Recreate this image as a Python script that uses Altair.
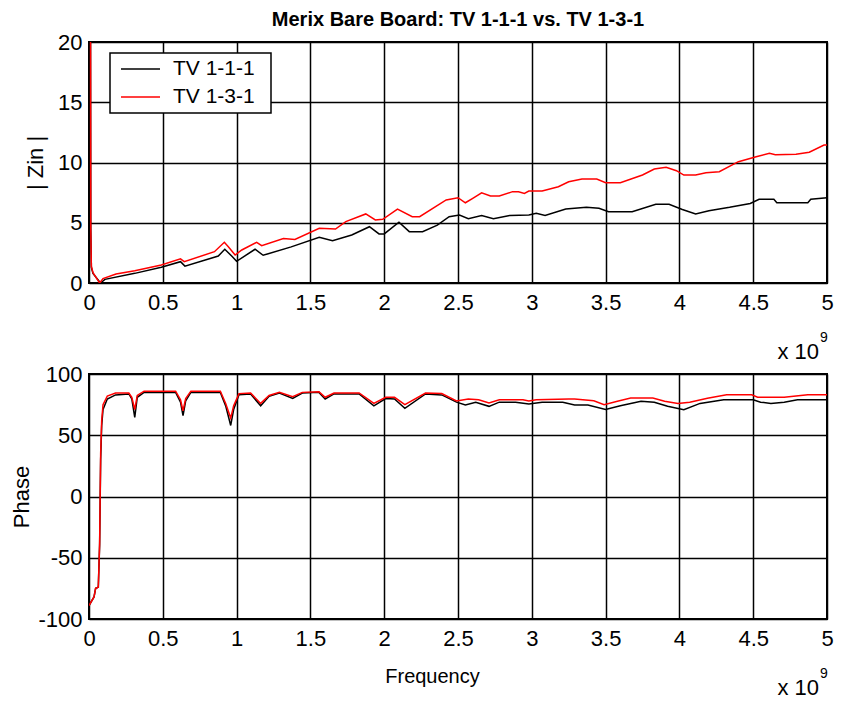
import altair as alt
import pandas as pd

SERIES = ["TV 1-1-1", "TV 1-3-1"]
COLORS = ["#000000", "#ff0000"]

# Frequency in units of 1e9 Hz
f_zin_111 = [0.01, 0.012, 0.016, 0.027, 0.078, 0.108, 0.31, 0.49, 0.62, 0.65, 0.876, 0.92, 0.97, 1.0, 1.125,
             1.18, 1.37, 1.56, 1.65, 1.78, 1.90, 1.965, 2.0, 2.10, 2.17, 2.26, 2.36, 2.44, 2.51, 2.57,
             2.66, 2.74, 2.85, 2.98, 3.03, 3.09, 3.23, 3.37, 3.455, 3.52, 3.68, 3.84, 3.93, 4.02, 4.11,
             4.2, 4.34, 4.48, 4.54, 4.64, 4.66, 4.87, 4.89, 5.0]
zin_111 = [25, 4.5, 1.3, 0.8, 0.0, 0.3, 0.8, 1.3, 1.77, 1.4, 2.24, 2.8, 2.2, 1.8, 2.8,
           2.3, 3.0, 3.8, 3.5, 3.98, 4.67, 4.07, 4.07, 5.04, 4.26, 4.26, 4.8, 5.5, 5.64, 5.34,
           5.6, 5.34, 5.6, 5.64, 5.78, 5.6, 6.14, 6.28, 6.2, 5.92, 5.92, 6.53, 6.53, 6.1, 5.73,
           6.0, 6.28, 6.6, 6.95, 6.95, 6.66, 6.66, 6.95, 7.08]

f_zin_131 = [0.01, 0.012, 0.016, 0.027, 0.072, 0.095, 0.183, 0.31, 0.49, 0.62, 0.645, 0.85, 0.917, 0.944,
             0.99, 1.035, 1.136, 1.17, 1.317, 1.395, 1.56, 1.67, 1.74, 1.875, 1.94, 1.99, 2.09, 2.19,
             2.24, 2.42, 2.50, 2.55, 2.60, 2.66, 2.72, 2.78, 2.87, 2.91, 2.95, 2.98, 3.07, 3.18, 3.25,
             3.34, 3.44, 3.50, 3.60, 3.75, 3.83, 3.91, 3.98, 4.03, 4.11, 4.18, 4.27, 4.40, 4.52, 4.61,
             4.65, 4.79, 4.88, 4.98, 5.0]
zin_131 = [25, 4.5, 1.4, 0.85, 0.0, 0.36, 0.75, 1.02, 1.49, 2.0, 1.77, 2.6, 3.38, 3.01,
           2.32, 2.74, 3.38, 3.1, 3.7, 3.62, 4.54, 4.48, 5.09, 5.73, 5.23, 5.29, 6.14, 5.5,
           5.5, 6.89, 7.08, 6.66, 7.03, 7.49, 7.22, 7.22, 7.58, 7.58, 7.44, 7.63, 7.63, 7.99, 8.4,
           8.63, 8.63, 8.32, 8.32, 8.96, 9.46, 9.6, 9.32, 8.96, 8.96, 9.15, 9.24, 10.07, 10.48, 10.76,
           10.65, 10.68, 10.85, 11.45, 11.45]

f_ph_111 = [0, 0.034, 0.045, 0.063, 0.072, 0.079, 0.086, 0.095, 0.124, 0.18, 0.27, 0.29, 0.31, 0.327,
            0.373, 0.587, 0.62, 0.637, 0.655, 0.69, 0.89, 0.926, 0.96, 0.98, 1.016, 1.095, 1.163, 1.22,
            1.29, 1.38, 1.445, 1.558, 1.6, 1.66, 1.83, 1.93, 2.01, 2.07, 2.14, 2.28, 2.39, 2.49, 2.55,
            2.62, 2.71, 2.78, 2.89, 2.98, 3.07, 3.21, 3.29, 3.38, 3.5, 3.6, 3.74, 3.83, 3.92, 4.03,
            4.14, 4.30, 4.5, 4.55, 4.62, 4.71, 4.80, 5.0]
ph_111 = [-89, -82, -75, -74, -40, 30, 58, 71, 79.6, 82.9, 83.7, 79.6, 64.6, 81,
          85, 85, 77, 66, 78, 85, 85, 74, 58, 71, 83, 83.7, 74, 81.8,
          84.5, 80, 84.5, 85, 79.6, 83.7, 83.7, 74, 80, 79.6, 72, 83.7, 82.9, 77, 74.7,
          77, 73.6, 77, 77, 75.5, 77, 77, 74.7, 74.7, 71, 74, 77.7, 77, 73.6, 70.9,
          76, 79, 79, 77, 76, 77, 79, 79]

f_ph_131 = [0, 0.034, 0.045, 0.063, 0.072, 0.079, 0.086, 0.095, 0.124, 0.18, 0.27, 0.29, 0.31, 0.327,
            0.373, 0.587, 0.62, 0.637, 0.655, 0.69, 0.89, 0.926, 0.96, 0.98, 1.016, 1.095, 1.163, 1.22,
            1.29, 1.38, 1.445, 1.558, 1.6, 1.66, 1.83, 1.93, 2.01, 2.07, 2.14, 2.28, 2.39, 2.49, 2.57,
            2.64, 2.71, 2.78, 2.94, 2.98, 3.03, 3.25, 3.29, 3.42, 3.49, 3.58, 3.67, 3.82, 3.90, 3.99,
            4.07, 4.19, 4.32, 4.49, 4.53, 4.71, 4.87, 5.0]
ph_131 = [-89, -82, -75, -74, -38, 35, 62, 75, 82, 84.5, 84.5, 81, 71, 82.5,
          86, 86, 79, 70, 80, 86, 86, 76, 64, 74, 84, 84.5, 76, 82.5,
          85, 81.5, 85, 85.5, 81, 84.5, 84.5, 76, 81, 81, 75, 84.5, 84, 78, 79.6,
          79, 76.3, 79, 79, 78, 79, 79.6, 79.6, 78.2, 75, 77.7, 80.4, 80.4, 77.7, 76,
          77, 80.2, 83, 83, 81, 81, 83, 83]

x_ticks = [0, 0.5, 1, 1.5, 2, 2.5, 3, 3.5, 4, 4.5, 5]
zin_ticks = [0, 5, 10, 15, 20]
ph_ticks = [-100, -50, 0, 50, 100]

TITLE = "Merix Bare Board: TV 1-1-1 vs. TV 1-3-1"
FONT = "Liberation Sans"


def long_df(f1, v1, f2, v2):
    a = pd.DataFrame({"f": f1, "v": v1, "s": SERIES[0], "o": range(len(f1))})
    b = pd.DataFrame({"f": f2, "v": v2, "s": SERIES[1], "o": range(len(f2))})
    return pd.concat([a, b], ignore_index=True)


zin_df = long_df(f_zin_111, zin_111, f_zin_131, zin_131)
ph_df = long_df(f_ph_111, ph_111, f_ph_131, ph_131)

W = 738
H1 = 241
H2 = 245

xaxis_common = dict(values=x_ticks, format="~g", labelFontSize=22, labelFont=FONT,
                    labelPadding=9, grid=True, ticks=False, tickSize=0, domain=False,
                    labelColor="black", labelFlush=False, gridColor="black",
                    gridOpacity=1, gridWidth=1.5)
yaxis_common = dict(labelFontSize=22, labelFont=FONT, labelPadding=7, grid=True,
                    ticks=False, tickSize=0, domain=False, labelColor="black",
                    labelExpr="'' + datum.value", gridColor="black", gridOpacity=1,
                    gridWidth=1.5, titleFontSize=22, titleFont=FONT,
                    titleFontWeight="normal", titleBaseline="middle", titleAngle=270,
                    titleColor="black")

top_lines = alt.Chart(zin_df).mark_line(strokeWidth=1.5, clip=True).encode(
    x=alt.X("f:Q", scale=alt.Scale(domain=[0, 5], nice=False),
            axis=alt.Axis(title=None, **xaxis_common)),
    y=alt.Y("v:Q", scale=alt.Scale(domain=[0, 20], nice=False),
            axis=alt.Axis(values=zin_ticks, title="| Zin |", titleX=-54, titleY=H1 / 2,
                          **yaxis_common)),
    color=alt.Color("s:N", scale=alt.Scale(domain=SERIES, range=COLORS),
                    legend=alt.Legend(title="x", titleOpacity=0, titleOrient="right",
                                      titleFontSize=2, titlePadding=12,
                                      orient="none", legendX=21, legendY=11,
                                      strokeColor="black", fillColor="white", padding=2,
                                      clipHeight=28, rowPadding=0, symbolType="stroke",
                                      symbolSize=1521, symbolStrokeWidth=1.5,
                                      labelFontSize=21, labelFont=FONT,
                                      labelOffset=12, symbolOffset=8, labelColor="black")),
    order="o:Q",
)

exp_df = pd.DataFrame({"t": ["x 10"], "e": ["9"]})

top_exp = alt.Chart(exp_df).mark_text(align="right", baseline="middle", fontSize=22,
                                      font=FONT, color="black").encode(
    x=alt.value(730), y=alt.value(310), text="t:N")
top_exp9 = alt.Chart(exp_df).mark_text(align="left", baseline="middle", fontSize=14,
                                       font=FONT, color="black").encode(
    x=alt.value(731), y=alt.value(296), text="e:N")

top = alt.layer(top_lines, top_exp, top_exp9).properties(
    width=W, height=H1,
    title=alt.TitleParams(TITLE, fontSize=20, fontWeight="bold", font=FONT, anchor="middle",
                          offset=1, color="black"))

bot_lines = alt.Chart(ph_df).mark_line(strokeWidth=1.5, clip=True).encode(
    x=alt.X("f:Q", scale=alt.Scale(domain=[0, 5], nice=False),
            axis=alt.Axis(title="Frequency", titleFontSize=20, titleFont=FONT,
                          titleFontWeight="normal", titleX=343, titleY=57,
                          titleBaseline="middle", titleColor="black", **xaxis_common)),
    y=alt.Y("v:Q", scale=alt.Scale(domain=[-100, 100], nice=False),
            axis=alt.Axis(values=ph_ticks, title="Phase", titleX=-68, titleY=H2 / 2,
                          **yaxis_common)),
    color=alt.Color("s:N", scale=alt.Scale(domain=SERIES, range=COLORS), legend=None),
    order="o:Q",
)

bot_exp = alt.Chart(exp_df).mark_text(align="right", baseline="middle", fontSize=22,
                                      font=FONT, color="black").encode(
    x=alt.value(730), y=alt.value(314), text="t:N")
bot_exp9 = alt.Chart(exp_df).mark_text(align="left", baseline="middle", fontSize=14,
                                       font=FONT, color="black").encode(
    x=alt.value(731), y=alt.value(300), text="e:N")

bot = alt.layer(bot_lines, bot_exp, bot_exp9).properties(width=W, height=H2)

chart = alt.vconcat(top, bot, spacing=-2).resolve_legend(color="independent").properties(
    padding={"left": 9, "top": 9, "right": 5, "bottom": 0},
    background="white",
).configure_view(stroke="black", strokeWidth=2).configure_legend(strokeWidth=1.5)

chart.save("out.html", embed_options={"renderer": "svg", "actions": False})
